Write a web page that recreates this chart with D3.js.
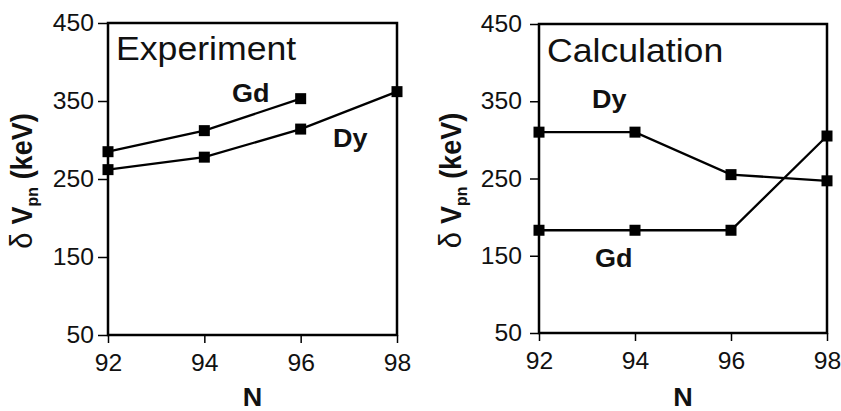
<!DOCTYPE html>
<html><head><meta charset="utf-8">
<script src="https://cdn.jsdelivr.net/npm/d3@7"></script>
<style>
html,body{margin:0;padding:0;background:#fff;}
svg{display:block;font-family:"Liberation Sans",Arial,Helvetica,sans-serif;}
</style></head>
<body><svg id="c" width="841" height="411"></svg>
<script>
const nValues = [92, 94, 96, 98];
const yTicks = [50, 150, 250, 350, 450];
const expGd = [285, 312, 353];
const expDy = [262, 278, 314, 362];
const calcDy = [310, 310, 255, 247];
const calcGd = [183, 183, 183, 305];
const panelTitles = ["Experiment", "Calculation"];
const seriesNames = ["Gd", "Dy"];

const SX = 1.08; // horizontal stretch of the reference's lettering
const svg = d3.select("#c");
const panels = [
  {title: panelTitles[0], x0: 108, x1: 397, y0: 335, y1: 23, tickPad: 4, tickSize: 10,
   titlePos: [116, 60], ylabX: 32,
   series: [
     {name: seriesNames[0], n: nValues.slice(0, 3), v: expGd, lab: [232, 102]},
     {name: seriesNames[1], n: nValues, v: expDy, lab: [333, 147]}
   ]},
  {title: panelTitles[1], x0: 539, x1: 827, y0: 333, y1: 24, tickPad: 8, tickSize: 9,
   titlePos: [547, 62], ylabX: 461,
   series: [
     {name: seriesNames[1], n: nValues, v: calcDy, lab: [592, 108]},
     {name: seriesNames[0], n: nValues, v: calcGd, lab: [595, 267]}
   ]}
];

function stretchedText(parent, x, y) {
  return parent.append("text").attr("transform", `translate(${x},${y}) scale(${SX},1)`);
}

panels.forEach(p => {
  const x = d3.scaleLinear().domain([92, 98]).range([p.x0, p.x1]);
  const y = d3.scaleLinear().domain([50, 450]).range([p.y0, p.y1]);
  const g = svg.append("g");

  // frame
  g.append("rect").attr("x", p.x0).attr("y", p.y1)
    .attr("width", p.x1 - p.x0).attr("height", p.y0 - p.y1)
    .attr("fill", "none").attr("stroke", "#000").attr("stroke-width", 2.5);

  const ya = g.append("g").attr("transform", `translate(${p.x0},0)`)
    .call(d3.axisLeft(y).tickValues(yTicks).tickFormat(d3.format("d"))
      .tickSize(p.tickSize).tickPadding(p.tickPad));
  const xa = g.append("g").attr("transform", `translate(0,${p.y0})`)
    .call(d3.axisBottom(x).tickValues(nValues).tickFormat(d3.format("d"))
      .tickSize(8).tickPadding(11));
  [ya, xa].forEach(a => {
    a.select(".domain").remove();
    a.selectAll(".tick line").attr("stroke", "#000").attr("stroke-width", 1.5);
    a.selectAll(".tick text").attr("fill", "#111").style("font-size", "23.5px");
  });
  ya.selectAll(".tick text").attr("x", 0)
    .attr("transform", `translate(${-(p.tickSize + p.tickPad)},0) scale(1.05,1)`);
  xa.selectAll(".tick text").attr("y", 0)
    .attr("transform", `translate(0,${8 + 11}) scale(1.05,1)`);

  // lines & markers
  const line = d3.line().x(d => x(d[0])).y(d => y(d[1]));
  p.series.forEach(s => {
    const pts = s.n.map((n, i) => [n, s.v[i]]);
    g.append("path").attr("d", line(pts)).attr("fill", "none")
      .attr("stroke", "#000").attr("stroke-width", 2.3);
    g.selectAll(null).data(pts).enter().append("rect")
      .attr("x", d => x(d[0]) - 5.5).attr("y", d => y(d[1]) - 5.5)
      .attr("width", 11).attr("height", 11).attr("fill", "#000");
    stretchedText(g, s.lab[0], s.lab[1])
      .style("font-size", "25px").style("font-weight", "bold").attr("fill", "#111")
      .text(s.name);
  });

  // title
  stretchedText(g, p.titlePos[0], p.titlePos[1])
    .style("font-size", "33px").attr("fill", "#111").text(p.title);

  // x label
  stretchedText(g, (p.x0 + p.x1) / 2, 406)
    .attr("text-anchor", "middle").style("font-size", "25px").style("font-weight", "bold")
    .attr("fill", "#111").text("N");

  // y label
  const yl = g.append("text")
    .attr("transform", `translate(${p.ylabX},${(p.y0 + p.y1) / 2 + 2}) scale(${SX},1) rotate(-90)`)
    .attr("text-anchor", "middle").style("font-size", "27px").attr("fill", "#111");
  yl.append("tspan").style("font-size", "29px").text("\u03b4 ");
  yl.append("tspan").style("font-weight", "bold").text("V");
  yl.append("tspan").style("font-weight", "bold").style("font-size", "16px")
    .attr("dy", "6").text("pn");
  yl.append("tspan").style("font-weight", "bold").attr("dy", "-6").text(" (keV)");
});
</script></body></html>
